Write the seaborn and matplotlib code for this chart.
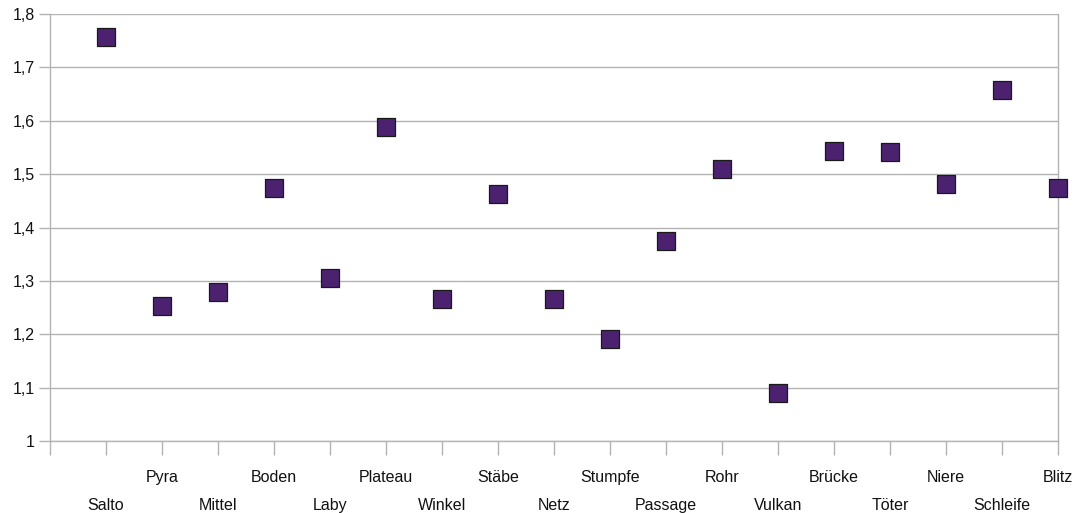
import matplotlib
matplotlib.use("Agg")
import matplotlib.pyplot as plt
import seaborn as sns
import pandas as pd

categories = ["Salto", "Pyra", "Mittel", "Boden", "Laby", "Plateau", "Winkel", "Stäbe", "Netz",
              "Stumpfe", "Passage", "Rohr", "Vulkan", "Brücke", "Töter", "Niere", "Schleife", "Blitz"]
values = [1.757, 1.252, 1.279, 1.474, 1.306, 1.588, 1.266, 1.463, 1.266,
          1.191, 1.375, 1.510, 1.090, 1.543, 1.541, 1.482, 1.658, 1.474]
y_ticks = [1.0, 1.1, 1.2, 1.3, 1.4, 1.5, 1.6, 1.7, 1.8]
y_tick_labels = ["1", "1,1", "1,2", "1,3", "1,4", "1,5", "1,6", "1,7", "1,8"]

sns.set_style("white")
plt.rcParams['font.family'] = ['Liberation Sans', 'DejaVu Sans']

df = pd.DataFrame({"pos": list(range(1, len(categories) + 1)), "value": values, "cat": categories})

fig = plt.figure(figsize=(10.8, 5.13), dpi=100)
ax = fig.add_axes([50 / 1080, 72 / 513, (1058 - 50) / 1080, (441 - 14) / 513])

grid_c = "#b3b3b3"
for yv in y_ticks:
    ax.axhline(yv, color=grid_c, lw=1.0, zorder=0)

sns.scatterplot(data=df, x="pos", y="value", marker="s", s=150, color="#4b2170",
                edgecolor="#1a1a1a", linewidth=0.9, ax=ax, zorder=3, legend=False, clip_on=False)

ax.set_xlim(0, len(categories))
ax.set_ylim(1.0, 1.8)
ax.set_yticks(y_ticks)
ax.set_yticklabels(y_tick_labels, fontsize=11.5, color="#111111")

major_pos = list(range(0, len(categories) + 1, 2))
major_lab = [""] + [categories[p - 1] for p in major_pos[1:]]
minor_pos = list(range(1, len(categories), 2))
minor_lab = [categories[p - 1] for p in minor_pos]
ax.set_xticks(major_pos)
ax.set_xticklabels(major_lab, fontsize=11.5, color="#111111")
ax.set_xticks(minor_pos, minor=True)
ax.set_xticklabels(minor_lab, minor=True, fontsize=11.5, color="#111111")

ax.tick_params(axis="x", which="both", bottom=True, direction="out")
ax.tick_params(axis="y", which="major", left=True, direction="out")
ax.tick_params(axis="x", which="major", length=10, width=1, color=grid_c, pad=11)
ax.tick_params(axis="x", which="minor", length=10, width=1, color=grid_c, pad=31)
ax.tick_params(axis="y", which="major", length=8, width=1, color=grid_c, pad=3)
ax.set_xlabel("")
ax.set_ylabel("")

for side in ["left", "right", "bottom"]:
    ax.spines[side].set_visible(True)
    ax.spines[side].set_color(grid_c)
    ax.spines[side].set_linewidth(1.0)
ax.spines["top"].set_visible(False)

fig.savefig("out.png", dpi=100)
